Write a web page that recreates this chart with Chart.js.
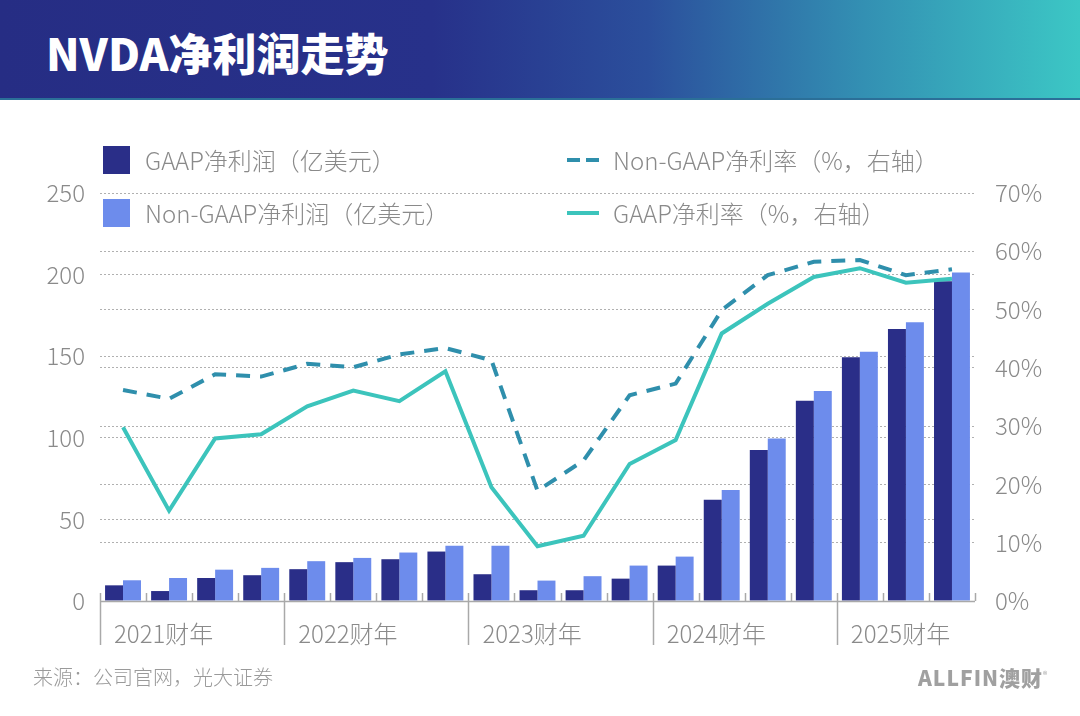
<!DOCTYPE html>
<html>
<head>
<meta charset="utf-8">
<script src="https://cdn.jsdelivr.net/npm/chart.js@4/dist/chart.umd.min.js"></script>
<style>
  html, body { margin:0; padding:0; background:#fff; }
  body { width:1080px; height:716px; position:relative; overflow:hidden; font-family:"Noto Sans CJK SC","Noto Sans",sans-serif; }
  #header { position:absolute; left:0; top:0; width:1080px; height:98px;
    background:linear-gradient(90deg,#262d84 0%,#27318a 40%,#2b4f9c 60%,#3390b3 80%,#3cc7c5 100%);
    border-bottom:2px solid #2b6f98; z-index:2; }
  #title { position:absolute; left:46px; top:22px; font-size:44px; font-weight:900; color:#fff; letter-spacing:0px; line-height:60px; }
  #wrap { position:absolute; left:0; top:0; width:1080px; height:716px; z-index:1; }
  .lg { position:absolute; z-index:3; font-size:24px; font-weight:300; color:#8a8a8a; line-height:30px; white-space:nowrap; }
  .sw { position:absolute; }
  #source { position:absolute; left:33px; top:662px; font-size:20px; font-weight:300; color:#9a9a9a; z-index:3; }
  #logo { position:absolute; left:918px; top:662px; font-size:21px; font-weight:900; color:#a0a0a0; z-index:3; letter-spacing:1px; }
  #logo sup { font-size:9px; font-weight:400; }
</style>
</head>
<body>
<div id="header"><div id="title">NVDA净利润走势</div></div>
<div id="wrap"><canvas id="c" width="1080" height="716"></canvas></div>
<div id="legend"></div>
<div id="source">来源：公司官网，光大证券</div>
<div id="logo">ALLFIN澳财<sup>®</sup></div>
<script>
const quarters = ['FY21Q1','FY21Q2','FY21Q3','FY21Q4','FY22Q1','FY22Q2','FY22Q3','FY22Q4',
  'FY23Q1','FY23Q2','FY23Q3','FY23Q4','FY24Q1','FY24Q2','FY24Q3','FY24Q4','FY25Q1','FY25Q2','FY25Q3'];
const years = ['2021财年','2022财年','2023财年','2024财年','2025财年'];
const quartersPerYear = [4,4,4,4,3];
const gaapNetIncome = [9.6, 6.1, 14.1, 15.8, 19.5, 23.8, 25.6, 30.3, 16.4, 6.6, 6.6, 13.7, 21.7, 62.0, 92.6, 122.7, 149.3, 166.7, 195.9];
const nonGaapNetIncome = [12.7, 14.1, 19.2, 20.3, 24.4, 26.4, 29.7, 33.8, 33.8, 12.5, 15.2, 21.7, 27.2, 68.0, 99.5, 128.6, 152.8, 170.8, 201.3];
const nonGaapMargin = [36.2, 34.7, 38.9, 38.5, 40.7, 40.1, 42.3, 43.4, 41.3, 18.9, 24.1, 35.3, 37.3, 49.9, 55.9, 58.2, 58.5, 55.9, 56.9];
const gaapMargin = [29.8, 15.5, 27.9, 28.6, 33.4, 36.1, 34.3, 39.4, 19.5, 9.4, 11.2, 23.5, 27.6, 45.9, 51.0, 55.6, 57.1, 54.6, 55.3];
const leftTicks = [0, 50, 100, 150, 200, 250];
const rightTicks = [0, 10, 20, 30, 40, 50, 60, 70];
const seriesNames = ['GAAP净利润（亿美元）','Non-GAAP净利润（亿美元）','Non-GAAP净利率（%，右轴）','GAAP净利率（%，右轴）'];

const C_DARK = '#2a2e88', C_LIGHT = '#6d8cec', C_DASH = '#2f8fac', C_SOLID = '#3cc4bc';
const FONT = '"Noto Sans CJK SC","Noto Sans",sans-serif';

// legend (HTML)
const legendSpec = [
  {name: seriesNames[0], type:'box', color:C_DARK, x:103, y:146},
  {name: seriesNames[1], type:'box', color:C_LIGHT, x:103, y:199},
  {name: seriesNames[2], type:'dash', color:C_DASH, x:567, y:146},
  {name: seriesNames[3], type:'line', color:C_SOLID, x:567, y:199},
];
const lg = document.getElementById('legend');
legendSpec.forEach(s => {
  if (s.type === 'box') {
    const b = document.createElement('div'); b.className='sw';
    Object.assign(b.style,{left:s.x+'px',top:s.y+'px',width:'27px',height:'28px',background:s.color,zIndex:3});
    lg.appendChild(b);
  } else if (s.type === 'dash') {
    [0,19].forEach(o=>{ const b=document.createElement('div'); b.className='sw';
      Object.assign(b.style,{left:(s.x+o)+'px',top:(s.y+12)+'px',width:'13px',height:'4px',background:s.color,zIndex:3}); lg.appendChild(b); });
  } else {
    const b=document.createElement('div'); b.className='sw';
    Object.assign(b.style,{left:s.x+'px',top:(s.y+12)+'px',width:'32px',height:'4px',background:s.color,zIndex:3}); lg.appendChild(b);
  }
  const t = document.createElement('div'); t.className='lg'; t.textContent = s.name;
  t.style.left = (s.type==='box' ? s.x+42 : s.x+46) + 'px'; t.style.top = (s.y-1)+'px';
  lg.appendChild(t);
});

const xAxisPlugin = {
  id: 'xAxisGroups',
  afterDatasetsDraw(chart) {
    const {ctx, chartArea:{left,right,bottom}, scales:{x}} = chart;
    const n = quarters.length;
    const half = (x.getPixelForValue(1) - x.getPixelForValue(0)) / 2;
    const yearStarts = []; let idx = 0;
    quartersPerYear.forEach(q => { yearStarts.push(idx); idx += q; });
    ctx.save();
    ctx.strokeStyle = '#a9a9a9'; ctx.lineWidth = 1.5;
    ctx.beginPath(); ctx.moveTo(left, bottom + 0.5); ctx.lineTo(right, bottom + 0.5); ctx.stroke();
    for (let i = 0; i <= n; i++) {
      const px = Math.round(i < n ? x.getPixelForValue(i) - half : x.getPixelForValue(n - 1) + half) + 0.5;
      const isYear = yearStarts.includes(i);
      ctx.beginPath(); ctx.moveTo(px, bottom - 8); ctx.lineTo(px, isYear ? bottom + 44 : bottom); ctx.stroke();
    }
    ctx.fillStyle = '#8a8a8a'; ctx.font = '300 24px ' + FONT;
    ctx.textAlign = 'left'; ctx.textBaseline = 'middle';
    years.forEach((y, k) => {
      const px = x.getPixelForValue(yearStarts[k]) - half;
      ctx.fillText(y, px + 14, bottom + 33);
    });
    ctx.restore();
  }
};

new Chart(document.getElementById('c'), {
  type: 'bar',
  data: {
    labels: quarters,
    datasets: [
      {type:'line', label:seriesNames[2], data:nonGaapMargin, yAxisID:'y1', borderColor:C_DASH, borderWidth:4,
        borderDash:[14,10], pointRadius:0, tension:0, fill:false, order:0},
      {type:'line', label:seriesNames[3], data:gaapMargin, yAxisID:'y1', borderColor:C_SOLID, borderWidth:4,
        pointRadius:0, tension:0, fill:false, order:0},
      {label:seriesNames[0], data:gaapNetIncome, yAxisID:'y', backgroundColor:C_DARK, barPercentage:1, categoryPercentage:0.78, order:1},
      {label:seriesNames[1], data:nonGaapNetIncome, yAxisID:'y', backgroundColor:C_LIGHT, barPercentage:1, categoryPercentage:0.78, order:1},
    ]
  },
  options: {
    responsive:false, animation:false,
    layout: {padding:{top:193, bottom:115, left:0, right:0}},
    plugins: {legend:{display:false}, tooltip:{enabled:false}},
    scales: {
      x: {display:false, offset:true},
      y: {position:'left', min:0, max:250, border:{display:false, dash:[2,2]},
        afterBuildTicks: s => { s.ticks = leftTicks.map(v => ({value:v})); },
        afterFit: s => { s.width = 100; },
        grid:{color:'#b0b0b0', lineWidth:1, drawTicks:false},
        ticks:{color:'#8a8a8a', padding:15, font:{family:FONT, size:24, weight:'300'}}
      },
      y1: {position:'right', min:0, max:70, border:{display:false, dash:[2,2]},
        afterBuildTicks: s => { s.ticks = rightTicks.map(v => ({value:v})); },
        afterFit: s => { s.width = 105; },
        grid:{color:'#b0b0b0', lineWidth:1, drawTicks:false},
        ticks:{color:'#8a8a8a', padding:20, font:{family:FONT, size:24, weight:'300'}, callback: v => v + '%'}
      }
    }
  },
  plugins: [xAxisPlugin]
});
</script>
</body>
</html>
